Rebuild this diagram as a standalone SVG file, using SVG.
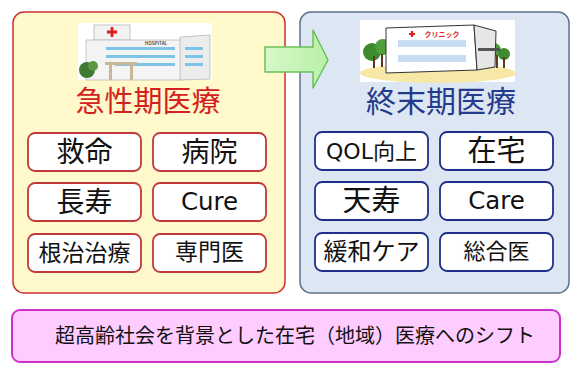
<svg xmlns="http://www.w3.org/2000/svg" width="571" height="376" viewBox="0 0 571 376">
  <defs>
    <linearGradient id="arrowFill" x1="0" y1="0" x2="1" y2="0">
      <stop offset="0" stop-color="#d8f8c8"/>
      <stop offset="1" stop-color="#b8f0a8"/>
    </linearGradient>
  </defs>
  <style>
    text { font-family: "Noto Sans CJK JP", "Noto Sans", sans-serif; text-anchor: middle; }
    .lat { font-family: "DejaVu Sans", "Noto Sans CJK JP", sans-serif; }
    .panelA { fill: #fff9cc; stroke: #cc3333; stroke-width: 1.5; }
    .panelB { fill: #dde7f3; stroke: #60718a; stroke-width: 1.5; }
    .tagA { fill: #ffffff; stroke: #c0393b; stroke-width: 1.8; }
    .tagB { fill: #ffffff; stroke: #1f2f88; stroke-width: 1.8; }
    .lbl { fill: #111111; }
    .bar { fill: #ffccff; stroke: #cc33cc; stroke-width: 2; }
  </style>

  <!-- acute care panel -->
  <g id="acute">
    <rect class="panelA" x="13" y="12" width="272" height="281" rx="11"/>
    <g id="hospital-illustration">
      <rect x="78" y="23" width="134" height="57" fill="#ffffff"/>
      <rect x="94" y="25" width="36" height="15" fill="#f2f2f2" stroke="#b8b8b8" stroke-width="0.8"/>
      <path d="M112 27v10M107 32h10" stroke="#e02020" stroke-width="2.8"/>
      <path d="M86 40h97v40H86z" fill="#f4f4f4" stroke="#b8b8b8" stroke-width="0.8"/>
      <path d="M180 37l30-2v44l-30 1z" fill="#ececec" stroke="#b8b8b8" stroke-width="0.8"/>
      <text x="156" y="45" font-size="4.5" font-weight="bold" fill="#555">HOSPITAL</text>
      <rect x="106" y="47" width="69" height="3" fill="#7ec3e8"/>
      <rect x="106" y="55" width="69" height="3" fill="#7ec3e8"/>
      <rect x="115" y="63" width="60" height="3" fill="#7ec3e8"/>
      <rect x="185" y="47" width="18" height="3" fill="#7ec3e8"/>
      <rect x="185" y="55" width="18" height="3" fill="#7ec3e8"/>
      <rect x="185" y="63" width="18" height="3" fill="#7ec3e8"/>
      <rect x="105" y="62" width="32" height="3" fill="#c8b89a"/>
      <rect x="109" y="65" width="3" height="15" fill="#c8b89a"/>
      <rect x="130" y="65" width="3" height="15" fill="#c8b89a"/>
      <circle cx="87" cy="70" r="8" fill="#3f7a33"/>
      <circle cx="93" cy="66" r="5" fill="#5a9a45"/>
    </g>
    <text x="148" y="112" font-size="29" fill="#d42020">急性期医療</text>
  </g>

  <!-- end-of-life care panel -->
  <g id="terminal">
    <rect class="panelB" x="300" y="12" width="269" height="281" rx="11"/>
    <g id="clinic-illustration">
      <rect x="360" y="20" width="155" height="62" fill="#ffffff"/>
      <ellipse cx="438" cy="73" rx="78" ry="10" fill="#f7e8a8"/>
      <circle cx="372" cy="52" r="9" fill="#3e8a2e"/>
      <circle cx="383" cy="47" r="8" fill="#4ea03a"/>
      <rect x="373" y="56" width="2" height="12" fill="#5a3a1a"/>
      <rect x="381" y="54" width="2" height="13" fill="#5a3a1a"/>
      <circle cx="494" cy="50" r="7" fill="#4ea03a"/>
      <circle cx="504" cy="54" r="6" fill="#3e8a2e"/>
      <rect x="496" y="55" width="2" height="13" fill="#5a3a1a"/>
      <rect x="503" y="57" width="2" height="11" fill="#5a3a1a"/>
      <path d="M386 28l88-3 3 45-91 3z" fill="#ffffff" stroke="#333" stroke-width="1"/>
      <path d="M474 25l22 6-1 36-18 3z" fill="#e6e6e6" stroke="#333" stroke-width="1"/>
      <rect x="478" y="48" width="22" height="3" fill="#555"/>
      <path d="M398 40h68v7h-68z" fill="#c8dcf2"/>
      <path d="M398 55h68v7h-68z" fill="#c8dcf2"/>
      <path d="M412 31v6M409 34h6" stroke="#e02020" stroke-width="2.2"/>
      <text x="442" y="37" font-size="7" font-weight="bold" fill="#e02020">クリニック</text>
    </g>
    <text x="441" y="112" font-size="30" fill="#263a8c">終末期医療</text>
  </g>

  <!-- shift arrow between panels -->
  <g id="connectors">
    <path d="M265 47h48v-17l15 30-15 28v-16h-48z" fill="url(#arrowFill)" stroke="#6cbf5c" stroke-width="1.5" stroke-linejoin="round"/>
  </g>

  <!-- acute care keywords -->
  <g id="a1"><rect class="tagA" x="28" y="133" width="113" height="38" rx="7"/><text class="lbl" x="84.5" y="162" font-size="28">救命</text></g>
  <g id="a2"><rect class="tagA" x="153" y="133" width="113" height="38" rx="7"/><text class="lbl" x="209.5" y="162" font-size="28">病院</text></g>
  <g id="a3"><rect class="tagA" x="28" y="183" width="113" height="38" rx="7"/><text class="lbl" x="84.5" y="212" font-size="28">長寿</text></g>
  <g id="a4"><rect class="tagA lat-box" x="153" y="183" width="113" height="38" rx="7"/><text class="lbl lat" x="209.5" y="210" font-size="24.5">Cure</text></g>
  <g id="a5"><rect class="tagA" x="28" y="234" width="113" height="38" rx="7"/><text class="lbl" x="84.5" y="261" font-size="23">根治治療</text></g>
  <g id="a6"><rect class="tagA" x="153" y="234" width="113" height="38" rx="7"/><text class="lbl" x="209.5" y="260" font-size="23">専門医</text></g>

  <!-- end-of-life care keywords -->
  <g id="b1"><rect class="tagB" x="315" y="132" width="113" height="38" rx="7"/><text class="lbl lat" x="371.5" y="159" font-size="22">QOL向上</text></g>
  <g id="b2"><rect class="tagB" x="440" y="132" width="113" height="38" rx="7"/><text class="lbl" x="496.5" y="161" font-size="29">在宅</text></g>
  <g id="b3"><rect class="tagB" x="315" y="182" width="113" height="38" rx="7"/><text class="lbl" x="371.5" y="211" font-size="29">天寿</text></g>
  <g id="b4"><rect class="tagB" x="440" y="182" width="113" height="38" rx="7"/><text class="lbl lat" x="496.5" y="209" font-size="24.5">Care</text></g>
  <g id="b5"><rect class="tagB" x="315" y="233" width="113" height="38" rx="7"/><text class="lbl" x="371.5" y="260" font-size="24">緩和ケア</text></g>
  <g id="b6"><rect class="tagB" x="440" y="233" width="113" height="38" rx="7"/><text class="lbl" x="496.5" y="259" font-size="22">総合医</text></g>

  <!-- summary banner -->
  <g id="summary">
    <rect class="bar" x="12" y="310" width="548" height="52" rx="8"/>
    <text class="lbl" x="295" y="343" font-size="20" fill="#222">超高齢社会を背景とした在宅（地域）医療へのシフト</text>
  </g>
</svg>
